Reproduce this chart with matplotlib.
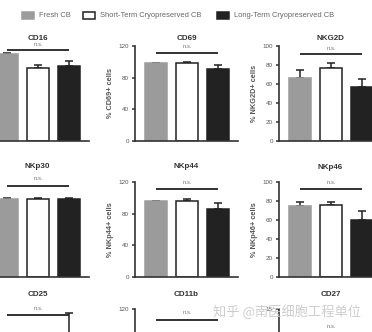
import matplotlib.pyplot as plt
import matplotlib.patches as mpatches

W, H = 372, 332

groups = ["Fresh CB", "Short-Term Cryopreserved CB", "Long-Term Cryopreserved CB"]
bar_colors = ["#9b9b9b", "white", "#222222"]
edge_colors = ["#9b9b9b", "#222222", "#222222"]

# mean and upper SEM for each marker, order: fresh, short-term, long-term
cd16_mean = [92, 77, 79]
cd16_err = [1, 3, 5]
cd69_mean = [98.5, 99, 91]
cd69_err = [0.5, 0.6, 5]
nkg2d_mean = [66, 77, 57]
nkg2d_err = [9, 5, 8]
nkp30_mean = [99, 99, 99]
nkp30_err = [0.3, 0.3, 0.4]
nkp44_mean = [96, 96, 85.5]
nkp44_err = [0.5, 2, 8]
nkp46_mean = [75, 75.5, 59.5]
nkp46_err = [3.5, 3.5, 10]
cd25_mean = [4, 5, 9]
cd25_err = [1.5, 2, 5.4]
cd11b_mean = [78, 80, 72]
cd11b_err = [6, 5, 8]
cd27_mean = [8, 9, 7]
cd27_err = [2, 2, 3]

# pixel layout of the 3x3 grid (axis origin x, top of y range)
col_x = [-14, 135, 279]
row_top = [46, 182, 309]
AX_W, AX_H = 103, 95

fig = plt.figure(figsize=(W / 100, H / 100), dpi=100)
fig.patch.set_facecolor("white")
plt.rcParams["font.family"] = ["Liberation Sans", "DejaVu Sans"]


def add_panel(col, row, name, mean, err, ylim, yticks, ylabel, title_y, ns_y, line_y):
    x0 = col_x[col]
    top = row_top[row]
    base = top + AX_H
    ax = fig.add_axes([x0 / W, 1 - base / H, AX_W / W, AX_H / H])
    ax.errorbar(range(3), mean, yerr=[[0, 0, 0], err], fmt="none", ecolor="#222222",
                elinewidth=1.1, capsize=3.2, capthick=1.1, zorder=1)
    ax.bar(range(3), mean, width=0.71, color=bar_colors, edgecolor=edge_colors,
           linewidth=1.1, zorder=2)
    ax.set_xlim(-0.68, 2.65)
    ax.set_ylim(ylim)
    ax.set_yticks(yticks)
    ax.set_xticks([])
    for s in ["top", "right"]:
        ax.spines[s].set_visible(False)
    for s in ["left", "bottom"]:
        ax.spines[s].set_linewidth(1.2)
        ax.spines[s].set_color("#333333")
    ax.tick_params(axis="y", length=2.5, width=1.1, color="#333333", pad=2,
                   labelsize=4.5, labelcolor="#555555")
    if col == 0:
        # left column's axis sits past the figure edge
        ax.tick_params(axis="y", labelleft=False)
    if ylabel:
        ax.set_ylabel(ylabel, fontsize=5.3, fontweight="bold", color="#555555", labelpad=3)
    ax.patch.set_alpha(0)

    def frac(y):
        return (base - y) / AX_H

    ax.text(0.5, frac(title_y), name, transform=ax.transAxes, ha="center", va="center",
            fontsize=5.8, fontweight="bold", color="#333333", clip_on=False)
    trans = ax.get_xaxis_transform()
    ax.plot([0, 2], [frac(line_y)] * 2, transform=trans, color="#222222", lw=1.3,
            clip_on=False, solid_capstyle="butt")
    ax.text(1, frac(ns_y), "n.s.", transform=trans, ha="center", va="center",
            fontsize=4.3, color="#777777", clip_on=False)
    return ax


t120 = [0, 40, 80, 120]
t100 = [0, 20, 40, 60, 80, 100]
add_panel(0, 0, "CD16", cd16_mean, cd16_err, (0, 100), t100, None, 39, 44, 50)
add_panel(1, 0, "CD69", cd69_mean, cd69_err, (0, 120), t120, "% CD69+ cells", 38, 47, 53)
add_panel(2, 0, "NKG2D", nkg2d_mean, nkg2d_err, (0, 100), t100, "% NKG2D+ cells", 38, 48, 54)
add_panel(0, 1, "NKp30", nkp30_mean, nkp30_err, (0, 120), t120, None, 166, 179, 186)
add_panel(1, 1, "NKp44", nkp44_mean, nkp44_err, (0, 120), t120, "% NKp44+ cells", 166, 182, 189)
add_panel(2, 1, "NKp46", nkp46_mean, nkp46_err, (0, 100), t100, "% NKp46+ cells", 167, 182, 189)
add_panel(0, 2, "CD25", cd25_mean, cd25_err, (0, 15), [0, 5, 10, 15], None, 294, 308, 315)
add_panel(1, 2, "CD11b", cd11b_mean, cd11b_err, (0, 120), t120, None, 294, 312, 320)
add_panel(2, 2, "CD27", cd27_mean, cd27_err, (0, 15), [0, 5, 10, 15], None, 294, 327, 334)

# legend row across the top
legend_x = [22, 83, 217]
for x, label, fc, ec in zip(legend_x, groups, bar_colors, edge_colors):
    rect = mpatches.Rectangle((x / W, 1 - 19 / H), 12 / W, 7 / H, transform=fig.transFigure,
                              facecolor=fc, edgecolor=ec, linewidth=1.1)
    fig.add_artist(rect)
    fig.text((x + 17) / W, 1 - 15.5 / H, label, fontsize=5.4, color="#666666",
             va="center", ha="left")

fig.text(213 / W, 1 - 312 / H, "知乎 @南医细胞工程单位", fontsize=9.5, color="#c8c8c8",
         va="center", ha="left", family=["Noto Sans CJK SC", "DejaVu Sans"], alpha=0.9)

fig.savefig("out.png", dpi=100)
